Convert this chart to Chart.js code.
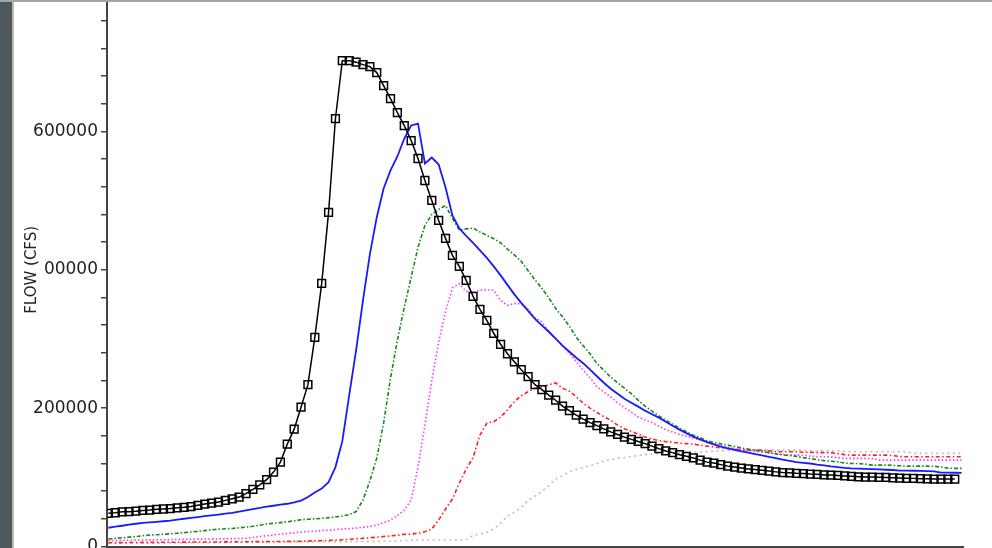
<!DOCTYPE html>
<html lang="en">
<head>
  <meta charset="UTF-8">
  <title>Flow hydrographs</title>
  <script src="https://cdn.jsdelivr.net/npm/chart.js"></script>
  <style>
    html, body { margin: 0; padding: 0; width: 992px; height: 548px; overflow: hidden; background: #fff; }
    #flowChart { position: absolute; left: 0; top: -20px; }
    .frame { position: absolute; z-index: 2; }
    #frameLeft { left: 0; top: 0; width: 12px; height: 548px; background: #50575b; }
    #frameLeftEdge { left: 12px; top: 0; width: 2px; height: 548px; background: #b6babd; }
    #frameTop { left: 0; top: 0; width: 992px; height: 2px; background: #a2a6a9; }
  </style>
</head>
<body>
  <div class="frame" id="frameLeft"></div>
  <div class="frame" id="frameLeftEdge"></div>
  <div class="frame" id="frameTop"></div>
  <canvas id="flowChart" width="992" height="620"></canvas>

  <script>
    // time steps along the x axis (one per reading)
    var hours = Array.from({ length: 125 }, function (_, i) { return i; });

    // flows, in thousands of cfs
    var flowInflow = [
      47.9, 48.8, 50.1, 50.3, 51.0, 52.1, 52.7, 53.7, 54.2, 54.9,
      55.9, 56.6, 57.8, 59.6, 61.4, 62.8, 64.3, 66.7, 68.9, 71.5,
      76.5, 82.6, 89.1, 96.7, 107.6, 122, 148, 169.7, 201.4, 234,
      302.5, 380.5, 483, 618.8, 702.5, 702.5, 700.3, 696.7, 693.8, 685.2,
      666.4, 647.6, 627.4, 608.6, 587, 561, 529.2, 500.3, 471.5, 445.5,
      420.9, 405, 384.8, 361.7, 343, 327, 308.3, 292.4, 278.7, 267.1,
      255.6, 245.5, 233.9, 226.7, 218.8, 211.5, 202.9, 196.4, 189.9, 184.1,
      179.1, 174.7, 170, 165.8, 162, 158.1, 154.9, 151.9, 148.7, 145.1,
      141.5, 138.2, 135.7, 132.8, 130.4, 128.1, 124.9, 122, 120.6, 118.4,
      116.2, 114.8, 113.4, 112.2, 111.2, 110.2, 109, 107.9, 106.9, 106.6,
      105.8, 105.4, 104.7, 104.3, 103.5, 103.2, 102.8, 102.1, 101.4, 100.8,
      100.4, 100.4, 100.1, 99.9, 99.3, 98.9, 98.6, 98.5, 98, 97.8,
      97.5, 97.5, 97.5, 97.5
    ];
    var flowBlue = [
      27.1, 28.6, 30, 31.5, 32.9, 34.2, 34.9, 35.7, 36.5, 37.4,
      38.8, 40.1, 41.4, 42.6, 43.8, 45.1, 46.2, 47.5, 48.7, 50.5,
      52.3, 54.2, 55.7, 57.5, 58.9, 60.4, 61.8, 63.8, 66.4, 71.5,
      78, 83.8, 93.1, 114.8, 152.3, 218.8, 283.7, 356, 422.4, 475.8,
      517.7, 543.7, 563.9, 589.9, 608.7, 611.5, 553.8, 562.4, 552.3, 519.1,
      478.7, 459.9, 449.1, 439, 428.1, 417.3, 405, 392, 378.3, 364.6,
      352.3, 340.8, 329.2, 319.8, 310.5, 300.4, 290.5, 281.6, 272.9, 265,
      255.6, 246.2, 236.8, 228.2, 220.9, 213.7, 207.9, 202.2, 196.4, 191.3,
      186.3, 180.5, 174.7, 169, 163.9, 158.8, 154.8, 150.9, 147.6, 144.4,
      141.8, 139.8, 137.6, 135.6, 133.6, 131.7, 129.7, 127.8, 125.6, 123.8,
      122, 121, 120, 118.4, 117.4, 115.8, 114.8, 113.6, 112.9, 112.6,
      112.2, 111.8, 111.5, 111, 110.6, 109.7, 109.6, 109.5, 109.2, 109,
      108.7, 106.9, 106.7, 106.6, 106.4
    ];
    var flowGreen = [
      10.8, 11.8, 12.6, 13.6, 14.4, 15.6, 16.6, 17, 17.8, 18.3,
      19.2, 20.1, 20.9, 21.9, 23, 24.1, 25, 25.6, 26.1, 27,
      28, 29.2, 30.8, 32.5, 33.5, 34.5, 35.7, 37.1, 38.6, 39.3,
      40, 40.7, 41.6, 42.6, 44, 46.2, 50.5, 67.1, 94.6, 127.8,
      178.3, 243.3, 298.2, 345.8, 389.2, 432.5, 464.3, 480.1, 487.4, 493.1,
      474.4, 457.7, 459.2, 460.3, 454.9, 449.8, 445, 439, 430, 421.6,
      412.3, 398.8, 385.5, 373.3, 359.6, 344.4, 332.1, 318.4, 302.5, 290.2,
      278.7, 264.5, 254.9, 244.8, 236.8, 228.9, 220.9, 211.5, 202.9, 195.7,
      188.9, 182.7, 176.9, 171.1, 166.1, 161, 157.3, 153.1, 150.5, 148.4,
      146.6, 144.5, 142.5, 140.8, 139.1, 137.5, 135.7, 134, 132.4, 131.4,
      130.3, 128.5, 127.1, 125.6, 124.2, 123.2, 122.5, 120.6, 120.1, 119.9,
      119.1, 117.7, 117.7, 117.7, 117.4, 116.7, 116.2, 116.2, 116.2, 116.2,
      116, 114.8, 113.4, 112.9, 112.9
    ];
    var flowMagenta = [
      8.7, 8.8, 9.0, 9.1, 9.3, 9.4, 9.6, 9.7, 9.8, 10.0,
      10.1, 10.3, 10.5, 10.6, 10.8, 11.0, 11.1, 11.3, 11.4, 11.6,
      11.7, 13.3, 14.4, 15.6, 16.6, 17.8, 18.8, 19.9, 20.9, 21.4,
      22.4, 22.8, 23.5, 24.5, 25.3, 26, 26.7, 27.7, 28.9, 31,
      34.7, 38.3, 44.8, 52.7, 67.1, 114.8, 175.4, 240.4, 295.3, 340.1,
      374, 379.8, 368.9, 367.5, 370.4, 371.1, 370.4, 356, 348.7, 351.2,
      351.2, 343, 330.7, 324.9, 311.2, 301.1, 290.2, 279.4, 267.1, 254.9,
      244, 231, 223.8, 215.9, 207.9, 200.7, 194.2, 187.3, 182.7, 179.3,
      174, 169, 165.3, 162, 159.6, 156.4, 154.1, 150.6, 147.7, 145.6,
      143.2, 141.5, 139.9, 138.6, 137.6, 136.7, 135.3, 133.9, 133.1, 132.6,
      132.1, 132, 130.7, 130, 129.7, 129.5, 128.5, 127.4, 127.4, 127.4,
      127.4, 127.1, 124.9, 124.9, 124.9, 124.9, 124.9, 124.9, 124.9, 124.9,
      124.9, 124.9, 124.9, 124.9, 124.9
    ];
    var flowRed = [
      5.5, 5.6, 5.6, 5.7, 5.8, 5.9, 5.9, 6.0, 6.1, 6.1,
      6.2, 6.3, 6.4, 6.4, 6.5, 6.6, 6.6, 6.7, 6.8, 6.9,
      6.9, 7.0, 7.1, 7.1, 7.2, 7.3, 7.4, 7.4, 7.5, 7.9,
      8.2, 8.5, 8.8, 9.2, 9.7, 10.4, 11.1, 12, 12.7, 13.4,
      14.4, 15.5, 16.3, 17.6, 18, 19.2, 21.2, 25.3, 38.3, 54.2,
      68.6, 91.7, 111.9, 128.5, 161, 178.3, 180.5, 187, 197.8, 209.4,
      218, 223.8, 228.9, 230.3, 233.9, 236.5, 228.9, 224.5, 216.6, 207.2,
      200, 193.8, 187.7, 182.7, 175.4, 170.4, 166.3, 162.5, 158.4, 155.5,
      153.1, 151.6, 150.5, 149.5, 148.7, 148, 146.6, 145.1, 143.7, 142.7,
      141.8, 140.8, 139.8, 139.3, 139.3, 139.3, 138.2, 137.2, 136.9, 136.9,
      136.9, 136.2, 136.2, 135.7, 135.7, 135.7, 134.3, 132.8, 132.1, 132.1,
      132.1, 132.1, 132.1, 132.1, 131.4, 130, 129.7, 129.7, 129.7, 129.7,
      129.7, 129.7, 129.7, 129.7, 129.7
    ];
    var flowGray = [
      4.3, 4.4, 4.5, 4.5, 4.6, 4.7, 4.8, 4.9, 4.9, 5.0,
      5.1, 5.2, 5.3, 5.4, 5.4, 5.5, 5.6, 5.7, 5.8, 5.8,
      5.9, 6.0, 6.1, 6.2, 6.2, 6.3, 6.4, 6.5, 6.6, 6.7,
      6.7, 6.8, 6.9, 7.0, 7.1, 7.1, 7.2, 7.3, 7.4, 7.5,
      7.5, 7.6, 7.7, 8.7, 9, 9.1, 9.4, 9.4, 9.4, 9.4,
      9.4, 9.4, 10.1, 15.9, 18, 20.2, 25.3, 33.9, 44, 49.8,
      56.3, 66.4, 72.9, 79.4, 88.1, 97.5, 102.5, 107.6, 111.2, 114.1,
      117, 119.9, 123.5, 125.6, 127.4, 128.5, 130, 131.7, 132.8, 133.6,
      134.3, 134.7, 135, 135.4, 135.9, 136.3, 136.7, 137.2, 137.6, 138.2,
      138.8, 139.3, 139.3, 139.3, 139.3, 139.3, 139.3, 139.3, 139.3, 139.3,
      139.3, 138.6, 138.3, 138.3, 138.3, 138.3, 138.3, 137.6, 136.9, 136.9,
      136.9, 136.9, 136.9, 136.9, 136.9, 136.9, 136.9, 134.6, 134.6, 134.6,
      134.6, 134.6, 134.6, 134.6, 134.6
    ];

    // y axis: labelled values and the text shown for them
    var yTickValues = [0, 200000, 400000, 600000];
    var yTickLabels = ['0', '200000', '00000', '600000'];

    function toCfs(arr) {
      return arr.map(function (v) { return v * 1000; });
    }

    var ctx = document.getElementById('flowChart').getContext('2d');

    var lineBase = { fill: false, tension: 0, pointRadius: 0, pointHoverRadius: 0 };

    var flowChart = new Chart(ctx, {
      type: 'line',
      data: {
        labels: hours,
        datasets: [
          {
            label: 'Inflow',
            data: toCfs(flowInflow),
            borderColor: '#000000',
            borderWidth: 1.5,
            tension: 0,
            fill: false,
            pointStyle: 'rect',
            pointRadius: 5.5,
            pointBorderWidth: 1.5,
            pointBorderColor: '#000000',
            pointBackgroundColor: 'rgba(255,255,255,0)'
          },
          Object.assign({ label: 'Blue', data: toCfs(flowBlue), borderColor: '#1a1aff', borderWidth: 1.8 }, lineBase),
          Object.assign({ label: 'Green', data: toCfs(flowGreen), borderColor: '#178a17', borderWidth: 1.6, borderDash: [4, 2, 1.5, 2] }, lineBase),
          Object.assign({ label: 'Magenta', data: toCfs(flowMagenta), borderColor: '#ff33ff', borderWidth: 1.6, borderDash: [1.5, 2.2] }, lineBase),
          Object.assign({ label: 'Red', data: toCfs(flowRed), borderColor: '#ff2020', borderWidth: 1.6, borderDash: [4, 2.5, 1.5, 2.5] }, lineBase),
          Object.assign({ label: 'Gray', data: toCfs(flowGray), borderColor: '#bdbdbd', borderWidth: 1.6, borderDash: [2, 3.5] }, lineBase)
        ]
      },
      options: {
        responsive: false,
        animation: false,
        devicePixelRatio: 1,
        // the top of the plot runs just past the visible window
        layout: { padding: { left: 0, right: 29, top: 13.1, bottom: 53.5 } },
        plugins: {
          legend: { display: false },
          tooltip: { enabled: false }
        },
        scales: {
          x: {
            type: 'linear',
            min: -0.2,
            max: 124.2,
            grid: { display: false, drawTicks: false },
            border: { display: true, color: '#444444', width: 2 },
            ticks: { display: false }
          },
          y: {
            min: 0,
            max: 800000,
            afterFit: function (scale) { scale.width = 107; },
            grid: { display: true, drawOnChartArea: false, drawTicks: true, tickLength: 6, color: '#444444', lineWidth: 1.5 },
            border: { display: true, color: '#444444', width: 2 },
            ticks: {
              stepSize: 40000,
              autoSkip: false,
              padding: 3,
              color: '#222222',
              font: { family: 'DejaVu Sans', size: 17 },
              callback: function (value) {
                var k = yTickValues.indexOf(Math.round(value));
                return k >= 0 ? yTickLabels[k] : '';
              }
            },
            title: {
              display: true,
              text: 'FLOW (CFS)',
              color: '#222222',
              font: { family: 'DejaVu Sans', size: 15 },
              padding: { top: 23, bottom: 0 }
            }
          }
        }
      }
    });
  </script>
</body>
</html>
